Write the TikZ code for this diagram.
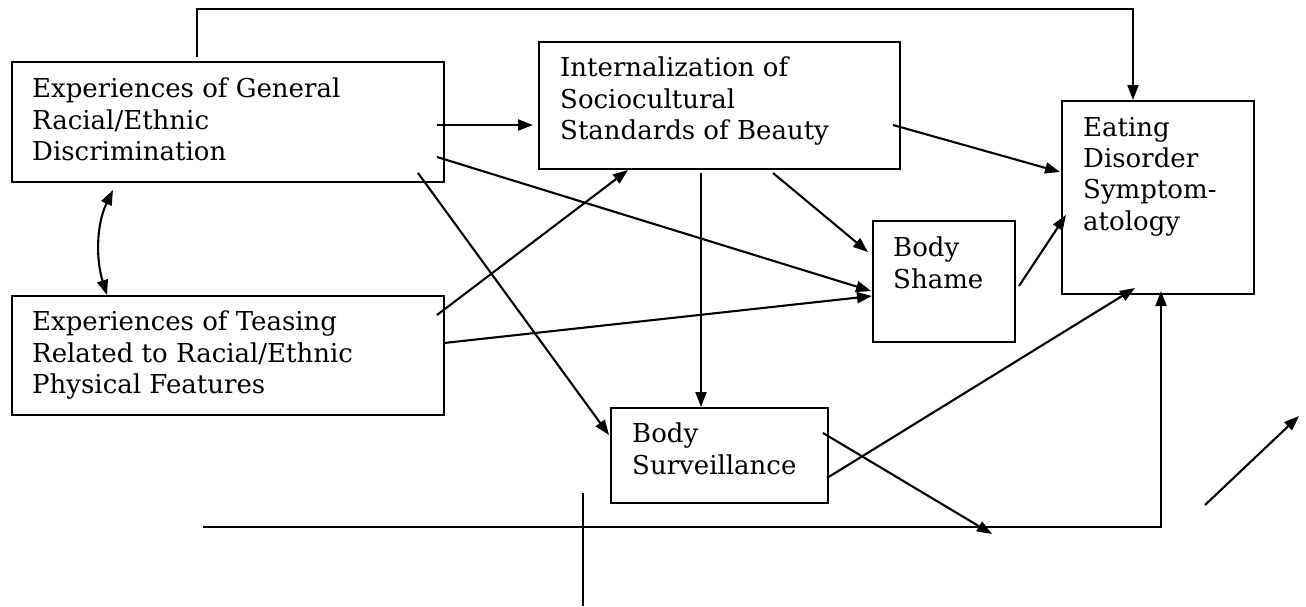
\documentclass[tikz,border=0pt]{standalone}
\usepackage{fontspec}
\setmainfont{DejaVu Serif}
\usetikzlibrary{arrows.meta,calc}
\begin{document}
\begin{tikzpicture}[x=1pt,y=-1pt,
  box/.style={draw, line width=1.6pt, inner sep=0pt, anchor=north west},
  lbl/.style={anchor=north west, inner sep=0pt, align=left, font=\fontsize{26}{31.3}\selectfont},
  conn/.style={line width=2.1pt, -{Triangle[length=15pt,width=11pt]}},
  both/.style={line width=2.1pt, {Triangle[length=15pt,width=11pt]}-{Triangle[length=15pt,width=11pt]}},
  plainline/.style={line width=2.1pt}]
\useasboundingbox[fill=white] (0,0) rectangle (1306,606);

% boxes
\node[box, minimum width=432pt, minimum height=120pt] (gen) at (11,61) {};
\node[box, minimum width=432pt, minimum height=119pt] (teas) at (11,295) {};
\node[box, minimum width=361pt, minimum height=127pt] (int) at (538,41) {};
\node[box, minimum width=192pt, minimum height=193pt] (eat) at (1061,100) {};
\node[box, minimum width=142pt, minimum height=121pt] (shame) at (872,220) {};
\node[box, minimum width=217pt, minimum height=95pt] (surv) at (610,407) {};

% texts
\node[lbl] (genT) at (32,78) {Experiences of General\\Racial/Ethnic\\Discrimination};
\node[lbl] (teasT) at (32,311) {Experiences of Teasing\\Related to Racial/Ethnic\\Physical Features};
\node[lbl] (intT) at (560,57) {Internalization of\\Sociocultural\\Standards of Beauty};
\node[lbl] (eatT) at (1083,117) {Eating\\Disorder\\Symptom-\\atology};
\node[lbl] (shameT) at (893,237) {Body\\Shame};
\node[lbl] (survT) at (632,423) {Body\\Surveillance};

% free coordinates
\coordinate (lend) at (992,534);
\coordinate (bstart) at (203,527);
\coordinate (vtop) at (583,493);
\coordinate (vbot) at (583,606);
\coordinate (fa) at (1205,505);
\coordinate (fb) at (1299,416);

% connectors
\draw[conn] ($(gen.north west)+(186,-4)$) -- ++(0,-48) -| ($(eat.north west)+(72,0)$);
\draw[conn] ($(gen.north west)+(426,64)$) -- ($(int.north west)+(-5,84)$);
\draw[conn] ($(gen.north west)+(426,96)$) -- ($(shame.north west)+(-1,71)$);
\draw[conn] ($(gen.north west)+(407,112)$) -- ($(surv.north west)+(-1,28)$);
\draw[conn] ($(teas.north west)+(426,20)$) -- ($(int.north west)+(90,129)$);
\draw[conn] ($(teas.north west)+(433,48)$) -- ($(shame.north west)+(0,76)$);
\draw[conn] ($(int.north west)+(163,132)$) -- ($(surv.north west)+(91,0)$);
\draw[conn] ($(int.north west)+(235,132)$) -- ($(shame.north west)+(-4,32)$);
\draw[conn] ($(int.north west)+(355,84)$) -- ($(eat.north west)+(-1,72)$);
\draw[conn] ($(shame.north west)+(147,66)$) -- ($(eat.north west)+(5,115)$);
\draw[conn] ($(surv.north west)+(217,71)$) -- ($(eat.north west)+(74,188)$);
\draw[conn] ($(surv.north west)+(213,26)$) -- (lend);
\draw[conn] (bstart) -| ($(eat.north west)+(100,191)$);
\draw[plainline] (vtop) -- (vbot);
\draw[conn] (fa) -- (fb);
\draw[both] ($(gen.north west)+(102,129)$) .. controls (96,225) and (96,260) .. ($(teas.north west)+(96,0)$);
\end{tikzpicture}
\end{document}
